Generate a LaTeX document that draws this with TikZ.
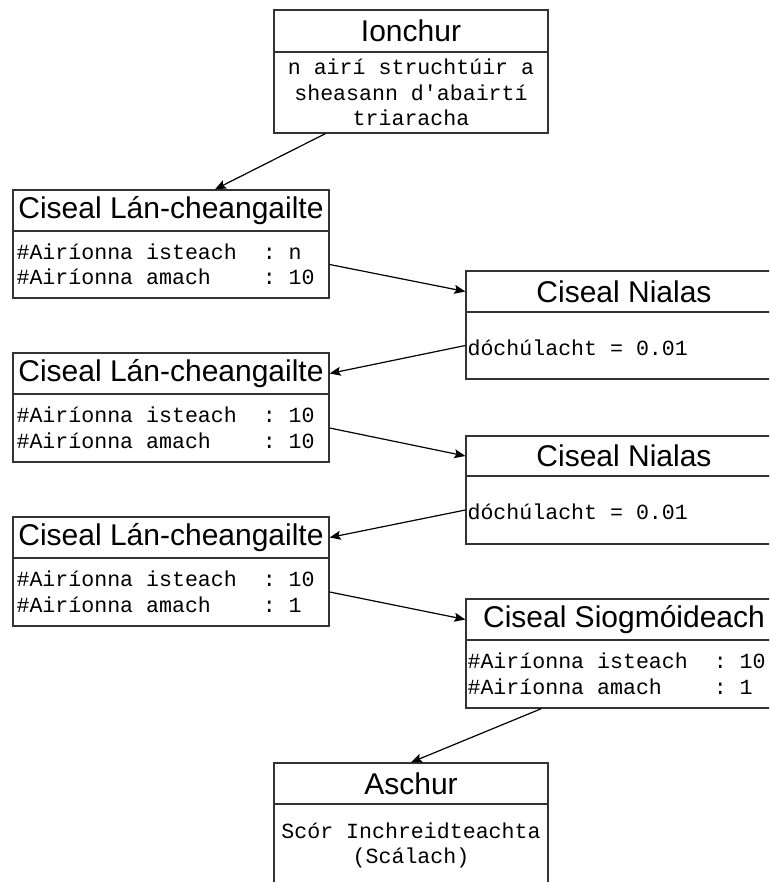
\documentclass[tikz,border=0pt]{standalone}
\usepackage{fontspec}
\setmainfont{Liberation Sans}
\newfontfamily\monofont{Liberation Mono}
\usetikzlibrary{arrows.meta,calc}
\definecolor{edge}{HTML}{333333}
\tikzset{
  part/.style={draw=edge, line width=1.3pt, rectangle, inner sep=0pt, minimum width=#1},
  headtxt/.style={font=\fontsize{30}{36}\selectfont, text=black, inner sep=0pt},
  monotxt/.style={font=\monofont\fontsize{21.6}{25.5}\selectfont, text=black, inner sep=0pt},
  flow/.style={draw=black, line width=1.2pt, -{Stealth[length=11pt, width=9pt, inset=2pt]}}
}
\begin{document}
\begin{tikzpicture}[x=1pt, y=-1pt]
\useasboundingbox (0,0) rectangle (769,882);
\clip (0,0) rectangle (769,882);

% Input block
\node[part=274, minimum height=42] (ionhead) at (411,31) {};
\node[part=274, minimum height=81] (ionbody) at (411,92.5) {};
\node[headtxt] (iont) at (ionhead) {Ionchur};
\node[monotxt, align=center] (ionb) at (ionbody) {n airí struchtúir a\\sheasann d'abairtí\\triaracha};

% Fully connected layer 1
\node[part=316, minimum height=41] (fc1head) at (171,210.5) {};
\node[part=316, minimum height=67] (fc1body) at (171,264.5) {};
\node[headtxt] (fc1t) at (fc1head) {Ciseal Lán-cheangailte};
\node[monotxt, align=left, anchor=west] (fc1b) at ($(fc1body.west)+(4,0)$) {\#Airíonna isteach~~:~n\\\#Airíonna amach~~~~:~10};

% Dropout layer 1
\node[part=316, minimum height=41] (n1head) at (624,291.5) {};
\node[part=316, minimum height=67] (n1body) at (624,345.5) {};
\node[headtxt] (n1t) at (n1head) {Ciseal Nialas};
\node[monotxt, anchor=west] (n1b) at ($(n1body.west)+(2,2)$) {dóchúlacht = 0.01};

% Fully connected layer 2
\node[part=316, minimum height=41] (fc2head) at (171,373.5) {};
\node[part=316, minimum height=68] (fc2body) at (171,428) {};
\node[headtxt] (fc2t) at (fc2head) {Ciseal Lán-cheangailte};
\node[monotxt, align=left, anchor=west] (fc2b) at ($(fc2body.west)+(4,0)$) {\#Airíonna isteach~~:~10\\\#Airíonna amach~~~~:~10};

% Dropout layer 2
\node[part=316, minimum height=40] (n2head) at (624,456) {};
\node[part=316, minimum height=68] (n2body) at (624,510) {};
\node[headtxt] (n2t) at (n2head) {Ciseal Nialas};
\node[monotxt, anchor=west] (n2b) at ($(n2body.west)+(2,2)$) {dóchúlacht = 0.01};

% Fully connected layer 3
\node[part=316, minimum height=41] (fc3head) at (171,537.5) {};
\node[part=316, minimum height=68] (fc3body) at (171,592) {};
\node[headtxt] (fc3t) at (fc3head) {Ciseal Lán-cheangailte};
\node[monotxt, align=left, anchor=west] (fc3b) at ($(fc3body.west)+(4,0)$) {\#Airíonna isteach~~:~10\\\#Airíonna amach~~~~:~1};

% Sigmoid layer
\node[part=316, minimum height=41] (sghead) at (624,619.5) {};
\node[part=316, minimum height=68] (sgbody) at (624,674) {};
\node[headtxt] (sgt) at (sghead) {Ciseal Siogmóideach};
\node[monotxt, align=left, anchor=west] (sgb) at ($(sgbody.west)+(2,0)$) {\#Airíonna isteach~~:~10\\\#Airíonna amach~~~~:~1};

% Output block
\node[part=274, minimum height=41] (outhead) at (411,783.5) {};
\node[part=274, minimum height=96] (outbody) at (411,852) {};
\node[headtxt] (outt) at (outhead) {Aschur};
\node[monotxt, align=center] (outb) at (411,845.5) {Scór Inchreidteachta\\(Scálach)};

% Connectors
\coordinate (ionout) at ($(ionbody.south west)+(52,0)$);
\coordinate (fc1in) at ($(fc1head.north)+(44,0)$);
\coordinate (sgout) at ($(sgbody.south west)+(76,0)$);
\draw[flow] (ionout) -- (fc1in);
\draw[flow] (fc1body.east) -- (n1head.west);
\draw[flow] (n1body.west) -- (fc2head.east);
\draw[flow] (fc2body.east) -- (n2head.west);
\draw[flow] (n2body.west) -- (fc3head.east);
\draw[flow] (fc3body.east) -- (sghead.west);
\draw[flow] (sgout) -- (outhead.north);
\end{tikzpicture}
\end{document}
